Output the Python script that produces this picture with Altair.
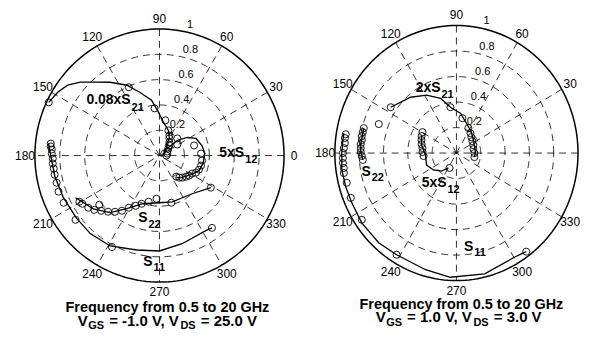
import altair as alt
import pandas as pd
import numpy as np

FONT = "Liberation Sans"

# ---------------- Left panel: VGS = -1.0 V, VDS = 25.0 V ----------------
L_S11_SIM_MAG = [0.71, 0.70, 0.72, 0.754, 0.768, 0.817, 0.83, 0.83, 0.84, 0.856, 0.873, 0.894]
L_S11_SIM_ANG = [-53.6, -57.9, -75.4, -90, -103.7, -119, -132, -143.6, -157, -169, -180, -186]
L_S11_MEAS_MAG = [0.71, 0.817, 0.844, 0.855, 0.859, 0.853, 0.855, 0.855, 0.859, 0.857, 0.865, 0.866, 0.876, 0.878]
L_S11_MEAS_ANG = [-53.6, -117.8, -143, -154.1, -160.6, -165.4, -169.8, -173.1, -175.8, -178.4, -181, -183.2, -184.7, -186.2]

L_S22_SIM_MAG = [0.484, 0.40, 0.38, 0.373, 0.404, 0.495, 0.60, 0.678, 0.728, 0.752]
L_S22_SIM_ANG = [-31.6, -49, -74.2, -90, -109.5, -121.9, -131.3, -141.6, -150.6, -153.7]
L_S22_MEAS_MAG = [0.484, 0.385, 0.342, 0.375, 0.407, 0.44, 0.48, 0.53, 0.57, 0.606, 0.64, 0.62, 0.677, 0.705, 0.727, 0.74]
L_S22_MEAS_ANG = [-31.6, -75.7, -94, -103.4, -110.6, -115.6, -120.8, -124.6, -128.8, -132.9, -137, -141.2, -140.7, -144.2, -148.4, -150.4]

L_S21_SIM_MAG = [0.983, 0.958, 0.924, 0.86, 0.786, 0.702, 0.614, 0.525, 0.441, 0.357, 0.279, 0.211, 0.157, 0.10, 0.043, 0.018]
L_S21_SIM_ANG = [154.7, 148.5, 143, 137.6, 132.5, 124.4, 115.2, 107.6, 98.3, 92.5, 85.1, 70.2, 59.5, 51.3, 21.8, -26]
L_S21_MEAS_MAG = [0.983, 0.593, 0.375, 0.282, 0.211, 0.177, 0.157, 0.13, 0.112, 0.09, 0.071, 0.065, 0.056]
L_S21_MEAS_ANG = [154.7, 114.5, 96, 80.3, 70.2, 63.4, 59.5, 52.4, 45, 37.9, 26.6, 14, 0]

L_S12_SIM_MAG = [0.05, 0.124, 0.186, 0.264, 0.323, 0.35, 0.365, 0.355, 0.339, 0.295, 0.247, 0.221]
L_S12_SIM_ANG = [51, 39.8, 39.8, 32.7, 24.7, 13.1, 2.5, -10.3, -20.6, -30.7, -45, -52.3]
L_S12_MEAS_MAG = [0.197, 0.167, 0.289, 0.334, 0.344, 0.343, 0.336, 0.323, 0.298, 0.286, 0.271, 0.253, 0.236, 0.214]
L_S12_MEAS_ANG = [43.4, 31.4, 16, 2.7, -6.6, -13.4, -19.3, -24.7, -28.6, -33.7, -37.9, -43.7, -47.7, -51]

# ---------------- Right panel: VGS = 1.0 V, VDS = 3.0 V ----------------
R_S11_SIM_MAG = [0.963, 0.946, 0.975, 0.975, 0.949, 0.937, 0.95, 0.952, 0.945, 0.948, 0.952, 0.943, 0.94, 0.939]
R_S11_SIM_ANG = [-53.4, -59.2, -76.2, -93, -105.5, -121.7, -132.3, -144.9, -155.6, -163.7, -172, -180, -186.2, -189.6]
R_S11_MEAS_MAG = [0.963, 0.937, 0.938, 0.937, 0.932, 0.939, 0.934, 0.937, 0.935, 0.934, 0.927, 0.921, 0.925, 0.922]
R_S11_MEAS_ANG = [-53.4, -121.7, -146.1, -158, -165.5, -170.4, -172.8, -175.2, -177.6, -180, -182.4, -184.9, -187.3, -189.2]

R_S22_SIM_MAG = [0.787, 0.79, 0.787, 0.772]
R_S22_SIM_ANG = [165.6, 174.9, 179.4, 184]
R_S22_MEAS_MAG = [0.787, 0.788, 0.79, 0.785, 0.79, 0.788, 0.787, 0.779, 0.772]
R_S22_MEAS_ANG = [165.6, 168, 170.3, 172.5, 174.9, 177.2, 179.4, 181.7, 184]

R_S21_SIM_MAG = [0.649, 0.578, 0.516, 0.449, 0.363, 0.314, 0.248, 0.205, 0.173, 0.156, 0.151]
R_S21_SIM_ANG = [146.4, 130.8, 118.5, 106.9, 97.8, 84, 70.7, 53.1, 36.3, 3, -12]
R_S21_MEAS_MAG = [0.678, 0.649, 0.363, 0.278, 0.219, 0.194, 0.175, 0.161, 0.153, 0.143, 0.148, 0.151]
R_S21_MEAS_ANG = [160.4, 146.4, 97.8, 79.8, 63.3, 53.6, 45.5, 35.6, 24.2, 12.7, 0, -12]

R_S12_SIM_MAG = [0.32, 0.294, 0.255, 0.263, 0.231, 0.187, 0.134]
R_S12_SIM_ANG = [153.8, 167.7, 183.6, 200.9, 215, 228.9, 240.5]
R_S12_MEAS_MAG = [0.324, 0.316, 0.305, 0.295, 0.282, 0.279, 0.271, 0.13]
R_S12_MEAS_ANG = [149.5, 155.1, 160.4, 166.3, 172, 178.4, 184.9, 244]

# ---------------- Grid ----------------
GRID_R = [0.2, 0.4, 0.6, 0.8]
OUTER_R = [1.0]
SPOKE_ANG = [0, 30, 60, 90, 120, 150]
LEFT_ANGLE_TICKS = [0, 30, 60, 90, 120, 150, 180, 210, 240, 270, 300, 330]
RIGHT_ANGLE_TICKS = [30, 60, 90, 120, 150, 180, 210, 240, 270, 300, 330]   # "0" falls outside the picture
RADIUS_TICKS = [0.2, 0.4, 0.6, 0.8, 1.0]
RADIUS_LABELS = ["0.2", "0.4", "0.6", "0.8", "1"]
ANGLE_LABEL_R = 1.08


def rows(series, mags, angs):
    return [dict(series=series, i=i, mag=m, ang=a) for i, (m, a) in enumerate(zip(mags, angs))]


LEFT_SIM = pd.DataFrame(rows("S11", L_S11_SIM_MAG, L_S11_SIM_ANG) + rows("S22", L_S22_SIM_MAG, L_S22_SIM_ANG)
                        + rows("S21", L_S21_SIM_MAG, L_S21_SIM_ANG) + rows("S12", L_S12_SIM_MAG, L_S12_SIM_ANG))
LEFT_MEAS = pd.DataFrame(rows("S11", L_S11_MEAS_MAG, L_S11_MEAS_ANG) + rows("S22", L_S22_MEAS_MAG, L_S22_MEAS_ANG)
                         + rows("S21", L_S21_MEAS_MAG, L_S21_MEAS_ANG) + rows("S12", L_S12_MEAS_MAG, L_S12_MEAS_ANG))
RIGHT_SIM = pd.DataFrame(rows("S11", R_S11_SIM_MAG, R_S11_SIM_ANG) + rows("S22", R_S22_SIM_MAG, R_S22_SIM_ANG)
                         + rows("S21", R_S21_SIM_MAG, R_S21_SIM_ANG) + rows("S12", R_S12_SIM_MAG, R_S12_SIM_ANG))
RIGHT_MEAS = pd.DataFrame(rows("S11", R_S11_MEAS_MAG, R_S11_MEAS_ANG) + rows("S22", R_S22_MEAS_MAG, R_S22_MEAS_ANG)
                          + rows("S21", R_S21_MEAS_MAG, R_S21_MEAS_ANG) + rows("S12", R_S12_MEAS_MAG, R_S12_MEAS_ANG))

circ_ang = list(range(0, 361, 2))
GRID_DF = pd.DataFrame([dict(mag=r, ang=a) for r in GRID_R for a in circ_ang])
OUTER_DF = pd.DataFrame([dict(mag=r, ang=a) for r in OUTER_R for a in circ_ang])
SPOKE_DF = pd.DataFrame(dict(ang=SPOKE_ANG, mag=[1.0] * len(SPOKE_ANG)))
RTICK_DF = pd.DataFrame(dict(mag=RADIUS_TICKS, ang=[80] * len(RADIUS_TICKS), label=RADIUS_LABELS))
ONE = pd.DataFrame({"a": [0]})


def atick_df(ticks):
    return pd.DataFrame(dict(ang=ticks, mag=[ANGLE_LABEL_R] * len(ticks), label=[str(a) for a in ticks]))


XY = dict(x="datum.mag * cos(datum.ang * PI / 180)", y="datum.mag * sin(datum.ang * PI / 180)")

# annotation pieces in page pixels: text, x, y(middle), align, size
LEFT_TEXT = [
    ("0.08xS", 131, 100, "right", 14), ("21", 132, 108, "left", 11),
    ("5xS", 245, 153, "right", 14), ("12", 246, 160, "left", 11),
    ("S", 148, 218, "right", 14), ("22", 149, 225, "left", 11),
    ("S", 153, 262, "right", 14), ("11", 154, 268, "left", 11),
    ("Frequency from 0.5 to 20 GHz", 168, 308.5, "center", 14.5),
    ("V", 78, 321.5, "left", 15), ("GS", 88.5, 327, "left", 11),
    ("= -1.0 V, V", 109.5, 321.5, "left", 15), ("DS", 181, 327, "left", 11),
    ("= 25.0 V", 201.5, 321.5, "left", 15),
]
RIGHT_TEXT = [
    ("2xS", 442, 88, "right", 14), ("21", 443, 95, "left", 11),
    ("S", 372, 172, "right", 14), ("22", 373, 178, "left", 11),
    ("5xS", 448, 183, "right", 14), ("12", 449, 190, "left", 11),
    ("S", 475, 247, "right", 14), ("11", 476, 253, "left", 11),
    ("Frequency from 0.5 to 20 GHz", 463, 305, "center", 14.5),
    ("V", 377, 318, "left", 15), ("GS", 387.5, 323.5, "left", 11),
    ("= 1.0 V, V", 408.5, 318, "left", 15), ("DS", 475, 323.5, "left", 11),
    ("= 3.0 V", 495.5, 318, "left", 15),
]


def panel(sim, meas, ticks, xdom, ydom, W, H, ox, oy, texts):
    xs = alt.Scale(domain=xdom, nice=False, zero=False)
    ys = alt.Scale(domain=ydom, nice=False, zero=False)
    ex = alt.X("x:Q", scale=xs, axis=None)
    ey = alt.Y("y:Q", scale=ys, axis=None)
    layers = []
    layers.append(alt.Chart(GRID_DF).mark_line(color="black", strokeWidth=0.8, strokeDash=[7, 5])
                  .transform_calculate(**XY).encode(ex, ey, detail="mag:N", order="ang:Q"))
    layers.append(alt.Chart(SPOKE_DF).mark_rule(color="black", strokeWidth=0.8, strokeDash=[7, 5])
                  .transform_calculate(**XY).transform_calculate(x2="-datum.x", y2="-datum.y")
                  .encode(ex, ey, x2="x2:Q", y2="y2:Q"))
    layers.append(alt.Chart(OUTER_DF).mark_line(color="black", strokeWidth=1.5)
                  .transform_calculate(**XY).encode(ex, ey, detail="mag:N", order="ang:Q"))
    layers.append(alt.Chart(atick_df(ticks)).mark_text(font=FONT, fontSize=12, color="black", baseline="middle")
                  .transform_calculate(**XY).encode(ex, ey, text="label:N"))
    layers.append(alt.Chart(RTICK_DF).mark_text(font=FONT, fontSize=11, color="black", align="left",
                                                baseline="middle", dx=6, dy=-6)
                  .transform_calculate(**XY).encode(ex, ey, text="label:N"))
    layers.append(alt.Chart(sim).mark_line(color="black", strokeWidth=1.3)
                  .transform_calculate(**XY).encode(ex, ey, detail="series:N", order="i:Q"))
    layers.append(alt.Chart(meas).mark_point(shape="circle", filled=False, size=50, color="black",
                                             strokeWidth=0.9, opacity=1)
                  .transform_calculate(**XY).encode(ex, ey))
    for (t, px, py, al, sz) in texts:
        layers.append(alt.Chart(ONE).mark_text(font=FONT, fontSize=sz, fontWeight="bold", align=al,
                                               baseline="middle", color="black")
                      .encode(x=alt.value(px - ox), y=alt.value(py - oy), text=alt.value(t)))
    return alt.layer(*layers).properties(width=W, height=H)


H = 322
left = panel(LEFT_SIM, LEFT_MEAS, LEFT_ANGLE_TICKS, [-152 / 125, (290 - 152) / 125],
             [-(H - 147.5) / 127, 147.5 / 127], 290, H, 8, 8, LEFT_TEXT)
right = panel(RIGHT_SIM, RIGHT_MEAS, RIGHT_ANGLE_TICKS, [-160 / 122, (283 - 160) / 122],
              [-(H - 145) / 128, 145 / 128], 283, H, 298, 8, RIGHT_TEXT)

chart = (alt.hconcat(left, right, spacing=0, bounds="flush")
         .resolve_scale(x="independent", y="independent")
         .properties(padding=0)
         .configure_view(stroke=None))

chart.save("out.html", embed_options={"renderer": "svg", "actions": False})
